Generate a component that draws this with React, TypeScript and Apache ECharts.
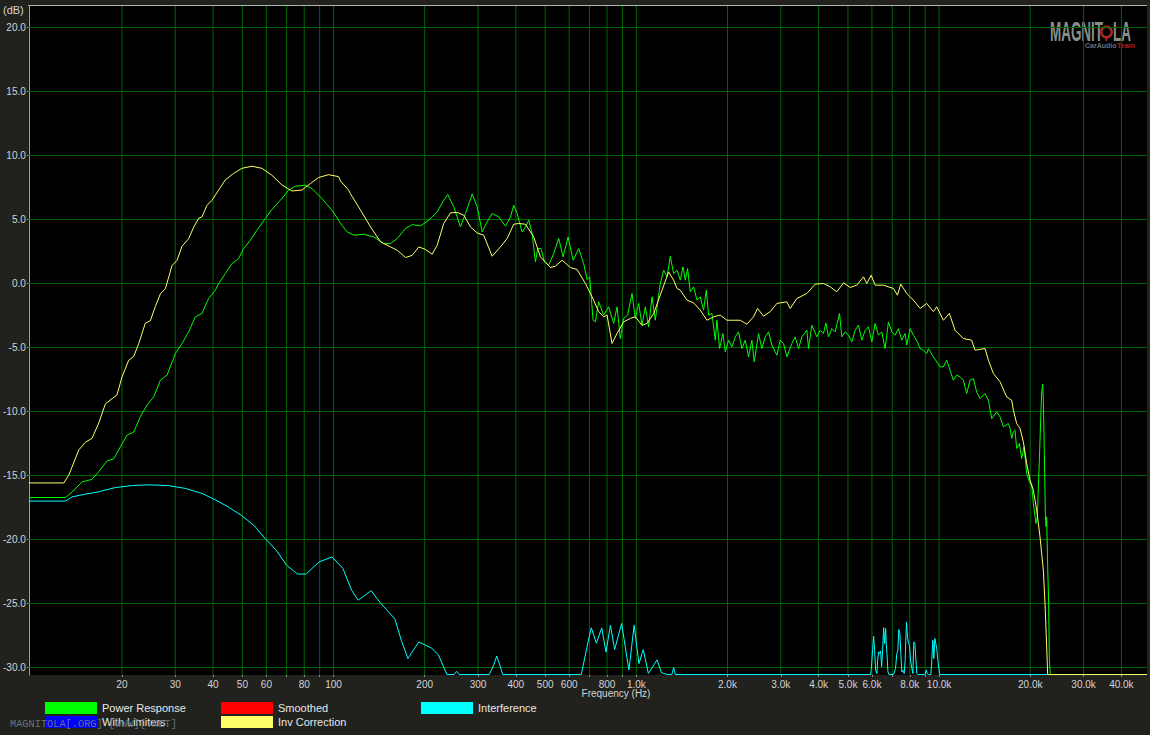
import React, { useEffect, useRef } from 'react';
import * as echarts from 'echarts';

// [frequency Hz, level dB]
const powerResponse: [number, number][] = [
  [9.85,-16.72],[13.02,-16.72],[13.69,-16.3],[14.77,-15.5],[15.93,-15.3],[16.77,-14.7],[17.86,-13.86],[18.79,-13.7],[19.77,-12.76],[20.79,-11.85],[21.88,-11.6],[23.01,-10.4],[24.2,-9.5],[25.46,-8.86],[26.8,-7.55],[28.18,-7.16],[30.04,-5.47],[31.57,-4.7],[33.22,-3.78],[34.96,-2.6],[36.76,-2.34],[38.68,-1.17],[40.7,-0.52],[41.74,0],[43.92,0.78],[46.18,1.56],[48.58,1.95],[50.47,2.73],[53.1,3.38],[55.84,4.16],[59.5,5.08],[62.56,5.78],[66.7,6.5],[71.04,7.29],[74.75,7.6],[80.65,7.68],[84.8,7.42],[91.5,6.64],[98.7,5.73],[103.9,4.95],[105.5,4.69],[111,4.03],[116.7,3.77],[125.9,3.85],[135.8,3.64],[146.6,3.12],[154.2,3.12],[162.3,3.52],[172.9,4.3],[181.9,4.6],[193.7,4.5],[206.3,4.95],[219.9,5.6],[231.2,6.5],[238.4,6.95],[249.5,5.99],[262.5,4.42],[272.7,5.47],[287,6.98],[298.1,5.99],[309.6,4.03],[321.5,4.81],[334,5.47],[351.2,5.2],[369.6,4.48],[383.9,5.2],[393.7,6.12],[404,5.47],[419.6,4.03],[430.3,4.42],[441.2,4.95],[452.8,3.9],[464.2,1.69],[472.4,2.73],[484.5,2.73],[497.1,1.69],[513.5,1.43],[533.5,2.34],[554.2,3.52],[573,2.08],[595.2,3.64],[618.3,1.82],[645.2,2.73],[670.2,1.56],[687.8,0.31],[701.3,0.52],[719.7,-2.87],[732.4,-3.0],[750.9,-1.43],[780,-2.47],[810.2,-1.82],[841.6,-3.12],[863.6,-1.82],[885.5,-4.3],[908,-2.73],[936,-2.47],[967.8,-0.78],[992.4,-2.73],[1018,-1.56],[1044,-3.26],[1071,-1.82],[1098,-3.39],[1127,-1.04],[1155,-2.87],[1200,0],[1231,1.04],[1263,0.52],[1295,2.13],[1328,0.78],[1363,1.04],[1397,0.26],[1426,1.3],[1451,0.26],[1477,1.17],[1507,-0.65],[1546,-0.26],[1586,-1.3],[1626,-1.04],[1668,-2.08],[1702,-0.52],[1733,-2.47],[1777,-2.34],[1823,-4.43],[1846,-2.87],[1884,-5.08],[1932,-3.91],[1967,-5.34],[2017,-4.43],[2069,-4.95],[2122,-4.17],[2176,-3.78],[2232,-5.08],[2289,-4.43],[2348,-5.73],[2408,-4.43],[2451,-6.12],[2533,-3.91],[2598,-5.08],[2665,-4.17],[2733,-3.78],[2803,-4.82],[2912,-5.6],[2987,-4.43],[3063,-4.69],[3142,-5.73],[3264,-4.69],[3347,-4.17],[3433,-5.08],[3521,-4.17],[3658,-3.65],[3704,-5.08],[3799,-3.26],[3946,-4.17],[4048,-3.65],[4151,-3.91],[4226,-3.08],[4312,-4.17],[4423,-3.52],[4536,-3.78],[4688,-2.34],[4772,-4.17],[4895,-3.78],[5021,-4.04],[5150,-4.56],[5282,-3.65],[5417,-3.26],[5556,-4.43],[5698,-3.65],[5845,-3.39],[5995,-4.56],[6148,-3.12],[6306,-4.04],[6467,-3.78],[6633,-5.08],[6803,-3.0],[6977,-3.78],[7156,-4.04],[7340,-3.52],[7528,-4.43],[7721,-3.91],[7820,-4.82],[8020,-3.52],[8225,-4.04],[8479,-4.56],[8653,-5.08],[8875,-5.21],[9102,-5.47],[9218,-5.08],[9575,-5.73],[9821,-6.12],[10072,-6.51],[10331,-6.51],[10595,-5.99],[10867,-6.77],[11145,-7.55],[11431,-7.16],[11724,-7.29],[12025,-7.55],[12333,-8.6],[12649,-7.55],[12973,-7.42],[13306,-8.47],[13647,-8.99],[14184,-8.6],[14547,-9.12],[14920,-10.55],[15497,-10.03],[15894,-10.42],[16301,-11.2],[16933,-10.94],[17150,-11.3],[17368,-12.11],[17590,-11.59],[17813,-11.46],[18040,-12.89],[18410,-12.5],[18740,-13.67],[19075,-12.76],[19466,-14.84],[19864,-15.5],[20220,-15.76],[20478,-17.19],[20897,-18.75],[21110,-18.23],[21271,-15.89],[21434,-13.8],[21652,-10.68],[21817,-8.47],[21984,-7.87],[22095,-9.12],[22264,-13.28],[22434,-17.97],[22548,-19.0],[22663,-18.23],[22836,-22.14],[23010,-25.0],[23127,-29.43],[23303,-30.55],[48600,-30.55]
];

const invCorrection: [number, number][] = [
  [9.85,-15.58],[12.85,-15.58],[13.35,-14.98],[14.41,-13.0],[15.15,-12.4],[15.93,-12.1],[16.77,-10.9],[17.64,-9.4],[18.55,-9.0],[19.27,-8.7],[20.01,-7.3],[21.06,-6.0],[21.88,-5.7],[22.72,-4.7],[23.9,-3.1],[24.83,-2.9],[25.79,-1.8],[26.8,-0.8],[27.84,-0.4],[29.27,1.4],[30.4,1.8],[31.57,2.9],[33.22,3.5],[34.51,4.4],[35.85,5.1],[36.76,5.2],[38.18,6.1],[39.66,6.5],[41.74,7.3],[43.92,8.1],[46.77,8.6],[49.81,9.0],[53.76,9.16],[57.99,9.0],[62.56,8.46],[67.5,7.7],[72.85,7.23],[78.6,7.3],[83.77,7.8],[89.2,8.28],[96.3,8.5],[103.9,8.35],[105.5,8.0],[112.1,7.3],[113.8,7.0],[122.8,5.73],[132.5,4.42],[142.9,3.25],[154.2,2.86],[162.3,2.6],[172.9,2.03],[181.9,2.2],[191.2,2.86],[201.2,2.66],[211.7,2.29],[219.9,2.99],[231.2,4.69],[243.3,5.52],[256,5.55],[269.2,5.34],[283.3,4.42],[298.1,3.95],[313.3,3.77],[334,2.13],[355.8,2.86],[374.4,3.52],[393.7,4.63],[408.8,4.69],[430.3,4.63],[458.3,3.64],[482.2,2.08],[520.3,1.25],[540.4,1.35],[568.7,1.82],[605.7,1.25],[637.4,1.09],[678.9,0],[714.3,-1.04],[750.9,-2.2],[780,-2.6],[800.5,-2.47],[831.4,-4.69],[863.6,-3.9],[908,-3.0],[955.4,-2.73],[992.4,-2.6],[1044,-3.26],[1085,-3.12],[1141,-2.34],[1200,-0.9],[1278,0.9],[1328,0.26],[1363,-0.39],[1397,-0.52],[1470,-1.3],[1546,-1.51],[1626,-2.08],[1711,-2.87],[1800,-2.6],[1893,-2.47],[1992,-2.87],[2095,-2.87],[2204,-2.87],[2318,-3.18],[2439,-2.6],[2514,-1.95],[2631,-2.55],[2768,-2.2],[2912,-1.56],[3142,-1.43],[3222,-1.95],[3390,-1.17],[3658,-0.78],[3897,-0.05],[4151,0],[4367,-0.26],[4594,-0.65],[4833,0.05],[5085,-0.31],[5349,-0.13],[5627,0.52],[5771,0],[5964,0.65],[6148,-0.13],[6550,-0.13],[7066,-0.39],[7284,-0.91],[7471,-0.05],[7820,-0.78],[8225,-1.3],[8653,-1.95],[9102,-1.56],[9575,-2.2],[9821,-1.82],[10331,-2.87],[10812,-2.34],[11288,-3.65],[12025,-4.3],[12810,-4.43],[13139,-5.21],[14184,-5.08],[14547,-5.99],[15110,-7.03],[15894,-7.68],[16719,-8.86],[17367,-9.12],[17590,-9.9],[18040,-10.94],[18505,-11.33],[18979,-12.37],[19466,-14.06],[19965,-15.37],[20478,-16.15],[21003,-17.71],[21543,-19.8],[22095,-22.4],[22377,-25.0],[22663,-28.39],[22836,-30.55],[48600,-30.55]
];

const interference: [number, number][] = [
  [9.85,-17.0],[13.03,-17.0],[13.69,-16.67],[15.12,-16.46],[16.69,-16.28],[19.04,-15.94],[21.71,-15.78],[24.38,-15.73],[28.29,-15.78],[32.26,-16.0],[36.81,-16.4],[40.63,-16.9],[44.86,-17.45],[49.51,-18.1],[54.63,-18.9],[59.32,-19.9],[64.45,-20.8],[69.95,-22.0],[76.0,-22.7],[81.15,-22.7],[89.57,-21.75],[98.9,-21.36],[107.4,-22.27],[114.7,-23.96],[120.5,-24.74],[133.1,-24.0],[142.1,-24.9],[159.4,-26.2],[167.5,-27.9],[176.0,-29.3],[191.2,-28.0],[211.1,-28.5],[221.8,-29.0],[236.9,-30.55],[250,-30.55],[255,-30.3],[260,-30.55],[327,-30.55],[338,-29.8],[345.9,-29.1],[354,-29.8],[362,-30.55],[658,-30.55],[691.3,-28.1],[710,-26.9],[738,-28.1],[768.5,-26.9],[794,-28.8],[821,-26.7],[848,-28.6],[894,-26.56],[945.4,-30.2],[983.4,-26.7],[1020,-29.7],[1054,-28.6],[1096,-30.47],[1171,-29.4],[1210,-30.4],[1266,-30.55],[1310,-30.55],[1328,-30.0],[1345,-30.55],[5940,-30.55],[5970,-30.16],[6031,-28.6],[6078,-27.55],[6124,-28.65],[6171,-30.2],[6234,-30.47],[6265,-29.43],[6313,-28.78],[6361,-28.9],[6410,-28.7],[6459,-29.95],[6508,-28.65],[6558,-26.88],[6608,-28.13],[6658,-26.95],[6692,-28.13],[6726,-28.9],[6777,-30.34],[6829,-30.55],[7070,-30.55],[7124,-30.34],[7178,-30.08],[7251,-28.9],[7307,-28.65],[7362,-27.03],[7419,-27.34],[7475,-28.9],[7532,-30.34],[7590,-30.2],[7667,-30.47],[7725,-29.43],[7764,-27.87],[7804,-26.44],[7863,-27.6],[7923,-28.13],[7984,-28.26],[8045,-29.43],[8127,-30.08],[8189,-30.47],[8251,-28.0],[8314,-28.13],[8378,-29.3],[8442,-30.47],[8506,-30.55],[8995,-30.55],[9064,-30.2],[9133,-30.47],[9225,-30.55],[9391,-30.55],[9462,-29.38],[9535,-27.87],[9607,-29.3],[9681,-27.73],[9755,-28.13],[9829,-28.6],[9904,-29.43],[9980,-30.08],[10056,-30.55],[48600,-30.55]
];

const gridFreqs = [20,30,40,50,60,70,80,90,100,200,300,400,500,600,700,800,900,1000,2000,3000,4000,5000,6000,7000,8000,9000,10000,20000,30000,40000];
const labelFreqs = [20,30,40,50,60,80,100,200,300,400,500,600,800,1000,2000,3000,4000,5000,6000,8000,10000,20000,30000,40000];
const dbTicks = [-30,-25,-20,-15,-10,-5,0,5,10,15,20];

const F_MIN = 9.85;
const F_MAX = 48600;
const DB_MIN = -30.5859;
const DB_MAX = 21.6797;

const GRID_GREEN = '#006800';
const FONT = '"Liberation Sans", Arial, sans-serif';

const toLog = (pts: [number, number][]) => pts.map(([f, d]) => [Math.log10(f), d]);
const fmtFreq = (v: number) => {
  const f = Math.round(Math.pow(10, v));
  return f >= 1000 ? (f / 1000).toFixed(1) + 'k' : String(f);
};

export default function App() {
  const ref = useRef<HTMLDivElement>(null);
  useEffect(() => {
    document.body.style.margin = '0';
    const chart = echarts.init(ref.current!, undefined, { renderer: 'svg' });
    const lineSeries = (name: string, color: string, data: [number, number][], z: number) => ({
      name,
      type: 'line',
      data: toLog(data),
      showSymbol: false,
      symbol: 'none',
      silent: true,
      z,
      color,
      itemStyle: { color },
      lineStyle: { color, width: 1 },
    });
    const gridSeries = (data: number[][]) => ({
      type: 'line',
      data,
      showSymbol: false,
      symbol: 'none',
      silent: true,
      z: 1,
      color: GRID_GREEN,
      lineStyle: { color: GRID_GREEN, width: 1 },
      emphasis: { disabled: true },
    });
    const xMin = Math.log10(F_MIN);
    const xMax = Math.log10(F_MAX);
    const legendBase = {
      orient: 'vertical',
      top: 702,
      icon: 'rect',
      itemWidth: 52,
      itemHeight: 12,
      itemGap: 2,
      selectedMode: false,
      padding: 0,
      textStyle: { color: '#e8e8e8', fontSize: 11, fontFamily: FONT },
    };
    chart.setOption({
      animation: false,
      backgroundColor: '#21211e',
      textStyle: { fontFamily: FONT },
      grid: { left: 28, right: 3, top: 6, bottom: 60, show: true, backgroundColor: '#000', borderWidth: 0 },
      xAxis: {
        type: 'value',
        min: xMin,
        max: xMax,
        axisLine: { show: false, onZero: false },
        axisTick: { show: true, inside: false, length: 2, customValues: gridFreqs.map(Math.log10), lineStyle: { color: '#8a8a8a' } },
        axisLabel: { show: true, customValues: labelFreqs.map(Math.log10), formatter: (v: number) => fmtFreq(v), color: '#d4d4d4', fontSize: 10, margin: 4, fontFamily: FONT },
        splitLine: { show: false },
      },
      yAxis: {
        type: 'value',
        min: DB_MIN,
        max: DB_MAX,
        axisLine: { show: true, onZero: false, lineStyle: { color: '#a0a0a0' } },
        axisTick: { show: true, inside: false, length: 2, customValues: dbTicks, lineStyle: { color: '#8a8a8a' } },
        axisLabel: { show: true, customValues: dbTicks, formatter: (v: number) => v.toFixed(1), color: '#d4d4d4', fontSize: 10, margin: 3, fontFamily: FONT },
        splitLine: { show: false },
      },
      legend: [
        { ...legendBase, left: 45, data: ['Power Response', 'With Limiters'] },
        { ...legendBase, left: 221, data: ['Smoothed', 'Inv Correction'] },
        { ...legendBase, left: 421, data: ['Interference'] },
      ],
      series: [
        ...dbTicks.map((d) => gridSeries([[xMin, d], [xMax, d]])),
        ...gridFreqs.map((f) => gridSeries([[Math.log10(f), DB_MIN], [Math.log10(f), DB_MAX]])),
        lineSeries('Interference', '#00ffff', interference, 3),
        lineSeries('Power Response', '#00ff00', powerResponse, 4),
        lineSeries('Smoothed', '#ff0000', [], 4),
        lineSeries('With Limiters', '#0000ff', [], 4),
        lineSeries('Inv Correction', '#ffff66', invCorrection, 5),
      ],
      graphic: [
        { type: 'line', silent: true, shape: { x1: 28, y1: 5.5, x2: 1147, y2: 5.5 }, style: { stroke: '#b4b4b4', lineWidth: 1 } },
        { type: 'text', x: 3, y: 10, silent: true, style: { text: '(dB)', fill: '#d4d4d4', font: `11px ${FONT}`, textVerticalAlign: 'middle' } },
        { type: 'text', x: 616, y: 693, silent: true, style: { text: 'Frequency (Hz)', fill: '#d4d4d4', font: `10px ${FONT}`, textAlign: 'center', textVerticalAlign: 'middle' } },
        { type: 'text', x: 10, y: 724, silent: true, z: 100, style: { text: 'MAGNITOLA[.ORG] [WWW][.NET]', fill: '#5f7585', font: `10.3px "Liberation Mono", "DejaVu Sans Mono", monospace`, textVerticalAlign: 'middle' } },
        { type: 'text', x: 1050, y: 31, scaleX: 0.48, silent: true, style: { text: 'MAGNIT', fill: '#9aa49e', font: `bold 28px ${FONT}`, textVerticalAlign: 'middle', opacity: 0.9 } },
        { type: 'ring', silent: true, shape: { cx: 1106.5, cy: 32, r: 6.5, r0: 4 }, style: { fill: '#a82626' } },
        { type: 'line', silent: true, shape: { x1: 1106.5, y1: 38, x2: 1106.5, y2: 41 }, style: { stroke: '#a82626', lineWidth: 2 } },
        { type: 'text', x: 1113, y: 31, scaleX: 0.48, silent: true, style: { text: 'LA', fill: '#9aa49e', font: `bold 28px ${FONT}`, textVerticalAlign: 'middle', opacity: 0.9 } },
        { type: 'text', x: 1085, y: 45, scaleX: 0.88, silent: true, style: { text: 'CarAudio', fill: '#6e6e6e', font: `bold 8px ${FONT}`, textVerticalAlign: 'middle' } },
        { type: 'text', x: 1117, y: 45, scaleX: 0.88, silent: true, style: { text: 'Team', fill: '#b02020', font: `bold 8px ${FONT}`, textVerticalAlign: 'middle' } },
      ],
    });
    return () => chart.dispose();
  }, []);
  return <div ref={ref} style={{ position: 'fixed', left: 0, top: 0, width: 1150, height: 735 }} />;
}
